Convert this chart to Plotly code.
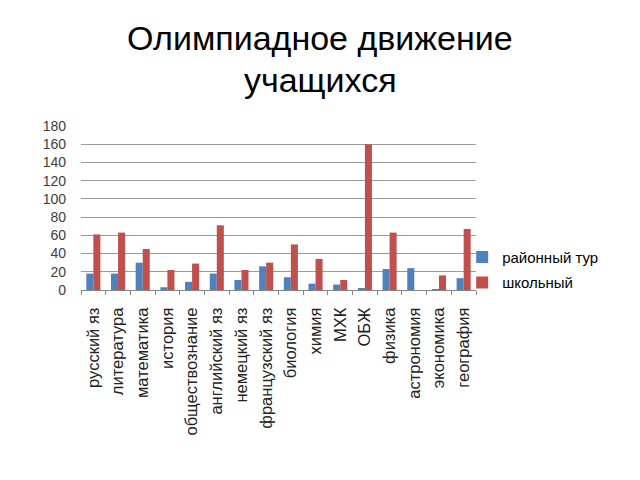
import plotly.graph_objects as go

categories = ["русский яз", "литература", "математика", "история", "обществознание",
              "английский яз", "немецкий яз", "французский яз", "биология", "химия",
              "МХК", "ОБЖ", "физика", "астрономия", "экономика", "география"]
district = [18, 18, 30, 3, 9, 18, 11, 26, 14, 7, 6, 2, 23, 24, 0.5, 13]
school = [61, 63, 45, 22, 29, 71, 22, 30, 50, 34, 11, 160, 63, 0, 16, 67]
y_ticks = [0, 20, 40, 60, 80, 100, 120, 140, 160, 180]
title_lines = ["Олимпиадное движение", "учащихся"]

font = "Liberation Sans"
L, R = 81, 164
W = 640 - L - R
fig = go.Figure()
fig.add_trace(go.Bar(name="районный тур", x=categories, y=district, legendgroup="a",
                     marker=dict(color="#4F81BD", line=dict(width=0))))
fig.add_trace(go.Bar(name="школьный", x=categories, y=school, legendgroup="b",
                     marker=dict(color="#C0504D", line=dict(width=0))))

for text, yp in zip(title_lines, [1.5366, 1.2805]):
    fig.add_annotation(text=text, xref="paper", yref="paper", x=(320 - L) / W, y=yp,
                       xanchor="center", yanchor="middle", showarrow=False,
                       font=dict(family=font, size=34, color="black"))

fig.update_layout(
    width=640, height=480,
    margin=dict(l=L, r=R, t=126, b=190),
    paper_bgcolor="white", plot_bgcolor="white",
    barmode="group", bargap=0.43, bargroupgap=0,
    font=dict(family=font, size=13, color="black"),
    showlegend=True,
    legend=dict(x=0.965, y=0.30, xanchor="left", yanchor="top",
                font=dict(family=font, size=15, color="black"), tracegroupgap=3,
                bgcolor="rgba(0,0,0,0)"),
    xaxis=dict(type="category", tickangle=-90, showgrid=False,
               showline=True, linecolor="#868686", linewidth=1,
               ticks="outside", tickson="boundaries", ticklen=4, tickcolor="#868686",
               ticklabelstandoff=10,
               tickfont=dict(family=font, size=16.5, color="#222222")),
    yaxis=dict(range=[0, 180], tickvals=y_ticks, showgrid=True,
               gridcolor="#9a9a9a", gridwidth=1, zeroline=False, showline=False,
               ticks="", ticklabelstandoff=14,
               tickfont=dict(family=font, size=14, color="#404040")),
)
fig.write_html("out.html")
